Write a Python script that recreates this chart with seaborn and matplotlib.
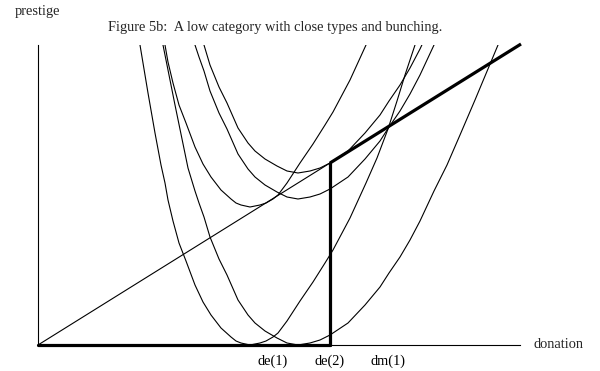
import matplotlib
matplotlib.use("Agg")
import matplotlib.pyplot as plt
import seaborn as sns
import numpy as np
import pandas as pd

# ---- data (donation / prestige units, origin at the axes corner) ----
# shape of the indifference curves of type 1 (vertex at donation 212)
type1_x = [102, 110, 117, 123, 127, 130, 135, 141, 148, 157, 165, 173, 183, 193, 198, 203, 212,
           222, 228, 235, 240, 249, 262, 275, 287, 295, 312, 328, 339, 350, 359, 367, 377]
type1_h = [300, 252, 212, 180, 162, 145, 124, 102, 84, 60, 43, 30, 17, 8, 4, 2, 0,
           2, 4, 8, 12, 24, 44, 63, 82, 95, 127, 162, 187, 216, 244, 270, 300]
# shape of the indifference curves of type 2 (vertex at donation 260)
type2_x = [125, 137, 150, 157, 161, 166, 172, 181, 189, 200, 210, 217, 227, 239, 249, 260,
           272, 282, 292, 310, 327, 342, 351, 362, 372, 382, 396, 409, 422, 437, 460]
type2_h = [300, 240, 177, 154, 142, 128, 108, 86, 70, 45, 30, 22, 14, 7, 2, 0,
           2, 5, 10, 22, 40, 58, 72, 88, 105, 124, 154, 180, 210, 245, 300]
# prestige level of each drawn curve's minimum
curve_names = ["A", "C", "B", "D", "E"]
curve_types = [1, 1, 2, 2, 2]
curve_levels = [0, 138, 0, 146, 172]

# prestige line (thin part then thick part)
line_x = [0, 292, 483]
line_y = [0, 182, 301]

# tick labels on the donation axis
tick_pos = [235, 292, 350]
tick_labels = ["de(1)", "de(2)", "dm(1)"]

# ---- build table ----
rows = []
for name, t, lev in zip(curve_names, curve_types, curve_levels):
    xs, hs = (type1_x, type1_h) if t == 1 else (type2_x, type2_h)
    for x, h in zip(xs, hs):
        rows.append({"curve": name, "donation": x, "prestige": h + lev})
df = pd.DataFrame(rows)

sns.set_style("white")
plt.rcParams["font.family"] = ["Liberation Serif", "DejaVu Serif"]
FS = 10.4

fig = plt.figure(figsize=(6.0, 3.71), dpi=100)
ax = fig.add_axes([0, 0, 1, 326 / 371])
ax.set_xlim(-38, 562)
ax.set_ylim(-26, 300)

sns.lineplot(data=df, x="donation", y="prestige", units="curve", estimator=None,
             color="black", linewidth=0.8, ax=ax, legend=False)

# straight line: thin from origin, thick beyond the vertical
ax.plot(line_x[:2], line_y[:2], color="black", lw=0.8, clip_on=False)
ax.plot(line_x[1:], line_y[1:], color="black", lw=2.3, clip_on=False, solid_capstyle="butt")
# thick vertical and thick horizontal
ax.plot([line_x[1], line_x[1]], [0, line_y[1]], color="black", lw=2.3, clip_on=False)
ax.plot([0, line_x[1]], [0, 0], color="black", lw=2.3, clip_on=False)

# axes
for s in ["top", "right"]:
    ax.spines[s].set_visible(False)
ax.spines["left"].set_position(("data", 0))
ax.spines["bottom"].set_position(("data", 0))
ax.spines["left"].set_bounds(0, 300)
ax.spines["bottom"].set_bounds(0, 482)
for s in ["left", "bottom"]:
    ax.spines[s].set_linewidth(0.8)
    ax.spines[s].set_color("black")

ax.set_yticks([])
ax.set_xticks(tick_pos)
ax.set_xticklabels(tick_labels, fontsize=FS)
ax.tick_params(axis="x", length=0, pad=7, colors="black")
ax.set_xticks([tick_pos[2]], minor=True)
ax.tick_params(axis="x", which="minor", length=3, direction="in", width=0.8, colors="black")
ax.set_xlabel("")
ax.set_ylabel("")
ax.patch.set_alpha(0)

ax.text(495, 1, "donation", ha="left", va="center", fontsize=FS, clip_on=False)
ax.text(-23, 334, "prestige", ha="left", va="center", fontsize=FS, clip_on=False)
ax.text(237, 318, "Figure 5b:  A low category with close types and bunching.",
        ha="center", va="center", fontsize=FS, clip_on=False)

fig.savefig("out.png", dpi=100, facecolor="white")
